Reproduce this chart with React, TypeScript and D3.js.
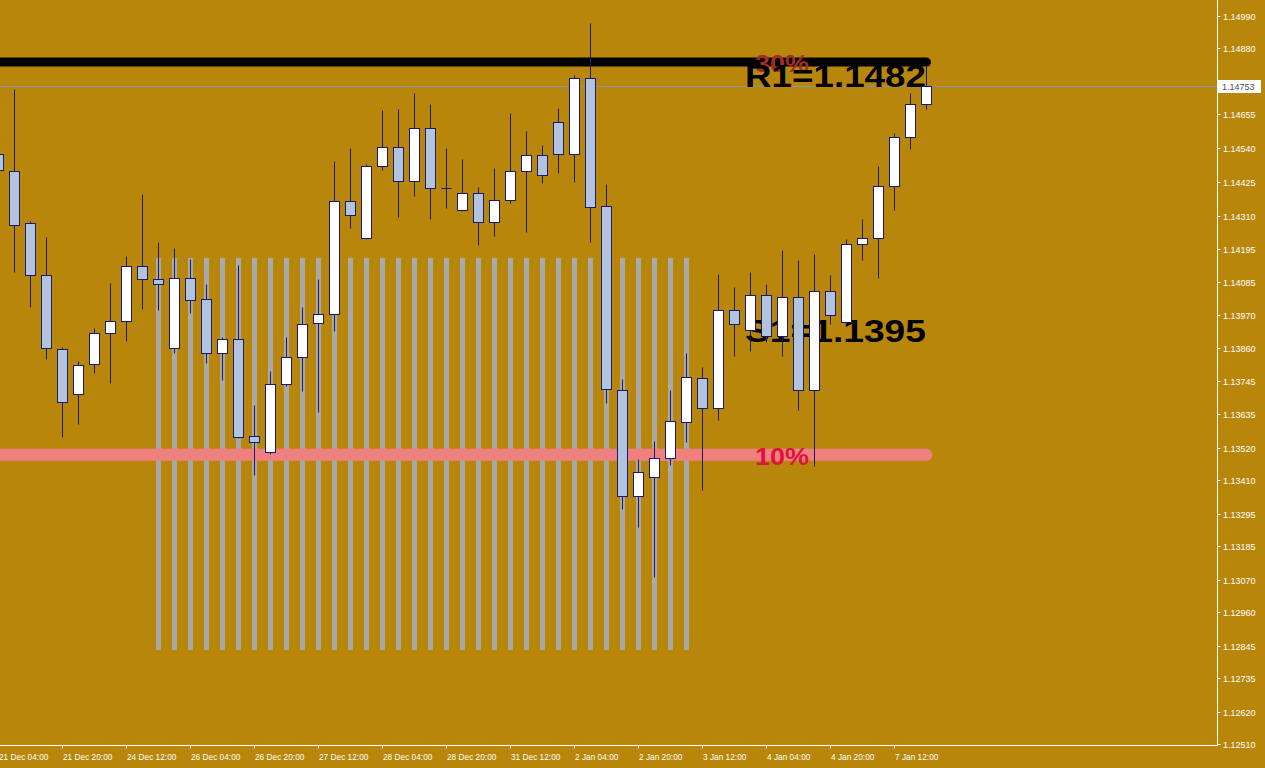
import React from "react";
import * as d3 from "d3";

// ---- Data (EURUSD H4) ----
const opens = [1.14520,1.14462,1.14285,1.14108,1.13856,1.13702,1.13805,1.13910,1.13951,1.14138,1.14094,1.13859,1.14097,1.14026,1.13842,1.13890,1.13559,1.13505,1.13736,1.13828,1.13944,1.13975,1.14360,1.14234,1.14479,1.14544,1.14428,1.14608,1.14404,1.14329,1.14387,1.14288,1.14363,1.14462,1.14516,1.14629,1.14520,1.14779,1.14343,1.13716,1.13355,1.13420,1.13484,1.13607,1.13757,1.13655,1.13988,1.13920,1.14040,1.13900,1.14033,1.13716,1.14053,1.13948,1.14213,1.14234,1.14411,1.14578,1.14690];
const highs = [1.14534,1.14741,1.14292,1.14237,1.13862,1.13815,1.13927,1.14080,1.14172,1.14384,1.14220,1.14200,1.14162,1.14077,1.13896,1.14142,1.13665,1.13781,1.13896,1.13999,1.14094,1.14496,1.14540,1.14486,1.14670,1.14673,1.14728,1.14690,1.14540,1.14503,1.14407,1.14472,1.14660,1.14598,1.14551,1.14677,1.14789,1.14966,1.14418,1.13753,1.13481,1.13542,1.13716,1.13842,1.13794,1.14111,1.14067,1.14118,1.14077,1.14193,1.14159,1.14179,1.14108,1.14230,1.14298,1.14479,1.14591,1.14728,1.14826];
const lows = [1.14459,1.14118,1.13999,1.13822,1.13556,1.13600,1.13774,1.13740,1.13883,1.13992,1.13988,1.13842,1.13978,1.13808,1.13750,1.13552,1.13426,1.13498,1.13730,1.13713,1.13641,1.13917,1.14268,1.14230,1.14465,1.14305,1.14377,1.14298,1.14336,1.14326,1.14210,1.14241,1.14353,1.14254,1.14421,1.14455,1.14425,1.14220,1.13672,1.13311,1.13249,1.13079,1.13460,1.13539,1.13375,1.13614,1.13832,1.13849,1.13879,1.13832,1.13648,1.13457,1.13941,1.13944,1.14159,1.14097,1.14329,1.14537,1.14673];
const closes = [1.14465,1.14278,1.14108,1.13859,1.13675,1.13801,1.13910,1.13951,1.14138,1.14094,1.14077,1.14097,1.14023,1.13842,1.13890,1.13556,1.13539,1.13736,1.13828,1.13941,1.13975,1.14360,1.14312,1.14479,1.14544,1.14428,1.14608,1.14404,1.14404,1.14387,1.14288,1.14363,1.14462,1.14516,1.14448,1.14520,1.14779,1.14339,1.13719,1.13355,1.13437,1.13484,1.13610,1.13760,1.13655,1.13988,1.13941,1.14040,1.13900,1.14033,1.13716,1.14053,1.13971,1.14213,1.14234,1.14411,1.14578,1.14690,1.14753];

const timeLabels = ["21 Dec 04:00","21 Dec 20:00","24 Dec 12:00","26 Dec 04:00","26 Dec 20:00","27 Dec 12:00","28 Dec 04:00","28 Dec 20:00","31 Dec 12:00","2 Jan 04:00","2 Jan 20:00","3 Jan 12:00","4 Jan 04:00","4 Jan 20:00","7 Jan 12:00"];
const timeLabelStep = 4;

const priceTicks = ["1.14990","1.14880","1.14765","1.14655","1.14540","1.14425","1.14310","1.14195","1.14085","1.13970","1.13860","1.13745","1.13635","1.13520","1.13410","1.13295","1.13185","1.13070","1.12960","1.12845","1.12735","1.12620","1.12510"];

const currentPrice = 1.14753;
const levelPrices = [1.14833, 1.13495];
const levelNames = ["30%", "10%"];
const pivotNames = ["R1=1.1482", "S1=1.1395"];
const pivotPrices = [1.1482, 1.1395];
const zoneFirst = 10;
const zoneLast = 43;
const zoneTop = 1.14166;
const zoneBottom = 1.12830;
const levelEndIndex = 58;

const W = 1265, H = 768;
const BG = "#B8860B";

export default function App() {
  const y = d3.scaleLinear().domain([1.1251, 1.1499]).range([744, 16]);
  const x = d3.scaleLinear().domain([0, 1]).range([-1.5, 14.5]);
  const axisX = 1217.5;
  const axisY = 745.5;
  const crisp = (v: number) => Math.round(v) + 0.5;
  const zone = d3.range(zoneFirst, zoneLast + 1);
  const lineEnd = x(levelEndIndex);

  return (
    <div style={{ position: "fixed", left: 0, top: 0, width: W, height: H }}>
      <svg width={W} height={H} style={{ display: "block", background: BG }}>
        <rect x={0} y={0} width={W} height={H} fill={BG} />
        {/* shaded zone bars */}
        {zone.map((i) => (
          <rect key={"z" + i} x={x(i) - 2.5} y={y(zoneTop)} width={5} height={y(zoneBottom) - y(zoneTop)} fill="#A9A9A9" />
        ))}
        {/* level lines */}
        <line x1={0} x2={lineEnd} y1={y(levelPrices[0])} y2={y(levelPrices[0])} stroke="#000" strokeWidth={9} strokeLinecap="round" />
        <line x1={0} x2={lineEnd} y1={y(levelPrices[1])} y2={y(levelPrices[1])} stroke="#F08080" strokeWidth={12} strokeLinecap="round" />
        <text x={755} y={y(levelPrices[0]) + 10} fill="#A52A2A" fontFamily="Liberation Sans, Arial, sans-serif" fontWeight="bold" fontSize={23} textLength={54} lengthAdjust="spacingAndGlyphs">{levelNames[0]}</text>
        <text x={755} y={y(levelPrices[1]) + 10.5} fill="#DC143C" fontFamily="Liberation Sans, Arial, sans-serif" fontWeight="bold" fontSize={23} textLength={54} lengthAdjust="spacingAndGlyphs">{levelNames[1]}</text>
        {/* current price line */}
        <line x1={0} x2={axisX} y1={crisp(y(currentPrice))} y2={crisp(y(currentPrice))} stroke="#8497A8" strokeWidth={1} />
        {/* pivot texts */}
        {pivotNames.map((t, k) => (
          <text key={t} x={745} y={y(pivotPrices[k]) + 21} fill="#000" fontFamily="Liberation Sans, Arial, sans-serif" fontWeight="bold" fontSize={31} textLength={181} lengthAdjust="spacingAndGlyphs">{t}</text>
        ))}
        {/* candles */}
        {opens.map((o, i) => {
          const c = closes[i];
          const cx = x(i);
          const yo = crisp(y(o));
          const yc = crisp(y(c));
          const top = Math.min(yo, yc);
          const bot = Math.max(yo, yc);
          const bull = c >= o;
          return (
            <g key={"c" + i}>
              <line x1={cx} x2={cx} y1={crisp(y(highs[i]))} y2={crisp(y(lows[i]))} stroke="#191970" strokeWidth={1} />
              {bot - top < 1 ? (
                <line x1={cx - 5} x2={cx + 5} y1={top} y2={top} stroke="#191970" strokeWidth={1} />
              ) : (
                <rect x={cx - 5} y={top} width={10} height={bot - top} fill={bull ? "#FFFFFF" : "#B0C4DE"} stroke="#191970" strokeWidth={1} />
              )}
            </g>
          );
        })}
        {/* right axis */}
        <line x1={axisX} x2={axisX} y1={0} y2={axisY} stroke="#FFFFFF" strokeWidth={1} />
        {priceTicks.map((t) => {
          const yy = crisp(y(+t));
          return (
            <g key={t}>
              <line x1={axisX} x2={axisX + 3} y1={yy} y2={yy} stroke="#FFFFFF" />
              <text x={1223} y={yy + 3.3} fill="#FFFFFF" fontFamily="Liberation Sans, Arial, sans-serif" fontSize={9}>{t}</text>
            </g>
          );
        })}
        <rect x={1218} y={crisp(y(currentPrice)) - 6.5} width={43} height={13} fill="#FFFFFF" />
        <text x={1222} y={crisp(y(currentPrice)) + 3.3} fill="#505050" fontFamily="Liberation Sans, Arial, sans-serif" fontSize={9}>{currentPrice.toFixed(5)}</text>
        {/* bottom axis */}
        <line x1={0} x2={axisX} y1={axisY} y2={axisY} stroke="#FFFFFF" strokeWidth={1} />
        {timeLabels.map((t, k) => {
          const xx = x(k * timeLabelStep);
          return (
            <g key={t}>
              <line x1={xx} x2={xx} y1={axisY} y2={axisY + 3} stroke="#FFFFFF" />
              <text x={xx + 0.5} y={760} fill="#FFFFFF" fontFamily="Liberation Sans, Arial, sans-serif" fontSize={8.3}>{t}</text>
            </g>
          );
        })}
      </svg>
    </div>
  );
}
